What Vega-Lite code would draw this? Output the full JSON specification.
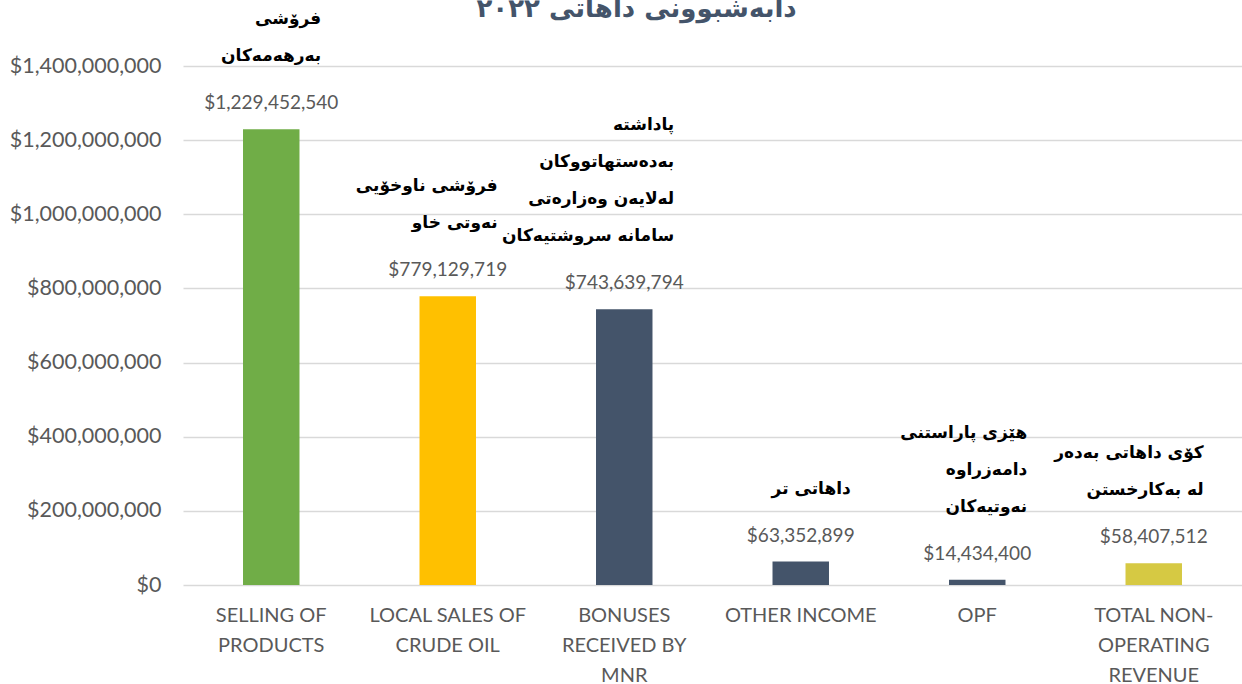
{
  "$schema": "https://vega.github.io/schema/vega-lite/v6.json",
  "width": 1059,
  "height": 519,
  "autosize": {"type": "none"},
  "padding": {"left": 183, "top": 66, "right": 0, "bottom": 99},
  "title": {
    "text": "دابەشبوونی داهاتی ٢٠٢٢",
    "font": "DejaVu Sans",
    "fontSize": 26,
    "fontWeight": "bold",
    "color": "#44546A",
    "anchor": "middle",
    "frame": "bounds",
    "offset": -12,
    "dx": 11
  },
  "config": {"view": {"stroke": null}, "font": "Lato"},
  "data": {
    "values": [
      {"cat": "SELLING OF|PRODUCTS", "value": 1229452540, "ku1": "بەرهەمەکان", "ku2": "فرۆشی"},
      {"cat": "LOCAL SALES OF|CRUDE OIL", "value": 779129719, "ku1": "نەوتی خاو", "ku2": "فرۆشی ناوخۆیی"},
      {"cat": "BONUSES|RECEIVED BY|MNR", "value": 743639794, "ku1": "سامانە سروشتیەکان", "ku2": "لەلایەن وەزارەتی", "ku3": "بەدەستهاتووکان", "ku4": "پاداشتە"},
      {"cat": "OTHER INCOME", "value": 63352899, "ku1": "داهاتی تر"},
      {"cat": "OPF", "value": 14434400, "ku1": "نەوتیەکان", "ku2": "دامەزراوە", "ku3": "هێزی پاراستنی"},
      {"cat": "TOTAL NON-|OPERATING|REVENUE", "value": 58407512, "ku1": "لە بەکارخستن", "ku2": "کۆی داهاتی بەدەر"}
    ]
  },
  "encoding": {
    "x": {
      "field": "cat",
      "type": "nominal",
      "sort": null,
      "scale": {"paddingInner": 0.68, "paddingOuter": 0.34},
      "axis": {
        "title": null,
        "labelAngle": 0,
        "labelExpr": "split(datum.label, '|')",
        "labelLineHeight": 30,
        "labelFontSize": 20,
        "labelColor": "#595959",
        "labelPadding": 20,
        "labelBaseline": "top",
        "domain": false,
        "ticks": false
      }
    },
    "y": {
      "field": "value",
      "type": "quantitative",
      "scale": {"domain": [0, 1400000000], "nice": false},
      "axis": {
        "title": null,
        "values": [0, 200000000, 400000000, 600000000, 800000000, 1000000000, 1200000000, 1400000000],
        "format": "$,.0f",
        "labelFontSize": 21.5,
        "labelColor": "#595959",
        "labelPadding": 22,
        "domain": false,
        "ticks": false,
        "gridColor": "#D9D9D9",
        "gridWidth": 1.5
      }
    }
  },
  "layer": [
    {
      "mark": {"type": "bar"},
      "encoding": {
        "color": {
          "field": "cat",
          "type": "nominal",
          "sort": null,
          "scale": {"range": ["#70AD47", "#FFC000", "#44546A", "#44546A", "#44546A", "#D6C943"]},
          "legend": null
        }
      }
    },
    {
      "mark": {"type": "text", "baseline": "middle", "dy": -26, "fontSize": 19, "color": "#595959"},
      "encoding": {"text": {"field": "value", "type": "quantitative", "format": "$,.0f"}}
    },
    {
      "transform": [{"filter": "isValid(datum.ku1)"}],
      "mark": {"type": "text", "font": "DejaVu Sans", "fontWeight": "bold", "fontSize": 17, "color": "#000000", "align": "right", "dx": 50, "baseline": "bottom", "dy": -64},
      "encoding": {"text": {"field": "ku1", "type": "nominal"}}
    },
    {
      "transform": [{"filter": "isValid(datum.ku2)"}],
      "mark": {"type": "text", "font": "DejaVu Sans", "fontWeight": "bold", "fontSize": 17, "color": "#000000", "align": "right", "dx": 50, "baseline": "bottom", "dy": -101},
      "encoding": {"text": {"field": "ku2", "type": "nominal"}}
    },
    {
      "transform": [{"filter": "isValid(datum.ku3)"}],
      "mark": {"type": "text", "font": "DejaVu Sans", "fontWeight": "bold", "fontSize": 17, "color": "#000000", "align": "right", "dx": 50, "baseline": "bottom", "dy": -138},
      "encoding": {"text": {"field": "ku3", "type": "nominal"}}
    },
    {
      "transform": [{"filter": "isValid(datum.ku4)"}],
      "mark": {"type": "text", "font": "DejaVu Sans", "fontWeight": "bold", "fontSize": 17, "color": "#000000", "align": "right", "dx": 50, "baseline": "bottom", "dy": -175},
      "encoding": {"text": {"field": "ku4", "type": "nominal"}}
    }
  ]
}
